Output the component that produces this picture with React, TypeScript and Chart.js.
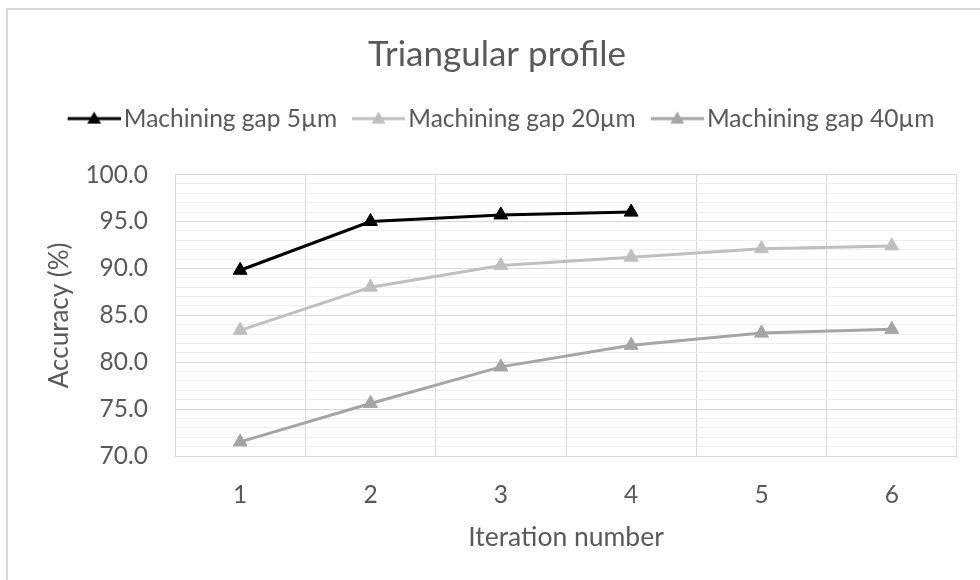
import { useEffect, useRef } from 'react';
import { Chart, registerables } from 'chart.js';

Chart.register(...registerables);

const chartTitle = 'Triangular profile';
const xAxisTitle = 'Iteration number';
const yAxisTitle = 'Accuracy (%)';
const iterations = ['1', '2', '3', '4', '5', '6'];
const seriesNames = ['Machining gap 5µm', 'Machining gap 20µm', 'Machining gap 40µm'];
const gap5 = [89.8, 95.0, 95.7, 96.0, null, null];
const gap20 = [83.4, 88.0, 90.3, 91.2, 92.1, 92.4];
const gap40 = [71.5, 75.6, 79.5, 81.8, 83.1, 83.5];
const seriesColors = ['#000000', '#BFBFBF', '#A5A5A5'];
const yMin = 70;
const yMax = 100;
const yMajorStep = 5;
const yMinorStep = 1;

const TEXT = '#595959';
const FONT = 'Lato';
const LEGEND_EXTRA = 33.75;
const LEGEND_SHIFT = 20;
const TITLE_SHIFT = 18.5;

function legendIcon(color: string) {
  const c = document.createElement('canvas');
  c.width = 67;
  c.height = 22;
  const g = c.getContext('2d')!;
  g.strokeStyle = color;
  g.lineWidth = 3;
  g.beginPath();
  g.moveTo(14, 11);
  g.lineTo(67, 11);
  g.stroke();
  const cx = 40.5, cy = 12, r = 8;
  g.fillStyle = color;
  g.beginPath();
  g.moveTo(cx, cy - r);
  g.lineTo(cx + r * 0.866, cy + r / 2);
  g.lineTo(cx - r * 0.866, cy + r / 2);
  g.closePath();
  g.fill();
  return c;
}

const framePlugin = {
  id: 'frame',
  beforeDraw(chart: any) {
    const ctx = chart.ctx;
    ctx.save();
    ctx.fillStyle = '#FFFFFF';
    ctx.fillRect(0, 0, chart.width, chart.height);
    ctx.strokeStyle = '#D9D9D9';
    ctx.lineWidth = 2;
    ctx.strokeRect(7, 9, chart.width + 20, chart.height + 20);
    ctx.restore();
  },
};

function shiftDraw(box: any, dx: number) {
  const origDraw = box.draw;
  box.draw = function (...args: any[]) {
    const ctx = this.ctx;
    ctx.save();
    ctx.translate(dx, 0);
    origDraw.apply(this, args);
    ctx.restore();
  };
}

const boxTweaks = {
  id: 'boxTweaks',
  beforeLayout(chart: any) {
    const lg = chart.legend;
    if (lg && !lg.__patched) {
      const orig = lg.fit;
      lg.fit = function () {
        orig.call(this);
        this.height += LEGEND_EXTRA;
      };
      shiftDraw(lg, LEGEND_SHIFT);
      lg.__patched = true;
    }
    const tt = chart.titleBlock;
    if (tt && !tt.__patched) {
      shiftDraw(tt, TITLE_SHIFT);
      tt.__patched = true;
    }
  },
};

export default function App() {
  const ref = useRef<HTMLCanvasElement>(null);
  useEffect(() => {
    const icons = seriesColors.map(legendIcon);
    const data = [gap5, gap20, gap40];
    const chart = new Chart(ref.current!, {
      type: 'line',
      data: {
        labels: iterations,
        datasets: seriesNames.map((name, i) => ({
          label: name,
          data: data[i],
          borderColor: seriesColors[i],
          backgroundColor: seriesColors[i],
          pointBackgroundColor: seriesColors[i],
          pointBorderColor: seriesColors[i],
          borderWidth: 3,
          pointStyle: 'triangle',
          pointRadius: 8,
          pointBorderWidth: 1,
          tension: 0,
          spanGaps: false,
        })),
      },
      options: {
        responsive: false,
        animation: false,
        layout: { padding: { top: 0, left: 0, right: 23, bottom: 0 } },
        plugins: {
          title: {
            display: true,
            text: chartTitle,
            color: TEXT,
            font: { family: FONT, size: 35, weight: 'normal' },
            padding: { top: 34, bottom: 20.35 },
          },
          legend: {
            display: true,
            labels: {
              color: TEXT,
              font: { family: FONT, size: 24.5 },
              usePointStyle: true,
              pointStyleWidth: 49,
              padding: 10,
              generateLabels: (ch: any) => {
                const items = Chart.defaults.plugins.legend.labels.generateLabels(ch);
                return items.map((it: any, i: number) => ({ ...it, pointStyle: icons[i] }));
              },
            },
          },
          tooltip: { enabled: false },
        },
        scales: {
          x: {
            offset: true,
            grid: { offset: true, color: '#D9D9D9', drawTicks: false, lineWidth: 1 },
            border: { color: '#D9D9D9' },
            ticks: { color: TEXT, font: { family: FONT, size: 24.5 }, padding: 24.3 },
            title: {
              display: true,
              text: xAxisTitle,
              color: TEXT,
              font: { family: FONT, size: 26.5 },
              padding: { top: 0, bottom: 26.2 },
            },
            afterFit: (s: any) => { s.height = 580 - 456; },
          },
          y: {
            min: yMin,
            max: yMax,
            grid: {
              drawTicks: false,
              color: (c: any) => (c.tick && c.tick.value % yMajorStep === 0 ? '#D9D9D9' : '#EEEEEE'),
            },
            border: { color: '#D9D9D9' },
            ticks: {
              stepSize: yMinorStep,
              autoSkip: false,
              color: TEXT,
              font: { family: FONT, size: 24.5 },
              padding: 27,
              callback: (v: any) => (Number(v) % yMajorStep === 0 ? Number(v).toFixed(1) : ''),
            },
            title: {
              display: true,
              text: yAxisTitle,
              color: TEXT,
              font: { family: FONT, size: 26 },
              padding: { top: 44.4, bottom: 0 },
            },
            afterFit: (s: any) => { s.width = 175; },
          },
        },
      },
      plugins: [framePlugin, boxTweaks],
    });
    return () => chart.destroy();
  }, []);
  return (
    <div style={{ position: 'fixed', left: 0, top: 0, width: 980, height: 580, background: '#fff' }}>
      <canvas ref={ref} width={980} height={580} />
    </div>
  );
}
